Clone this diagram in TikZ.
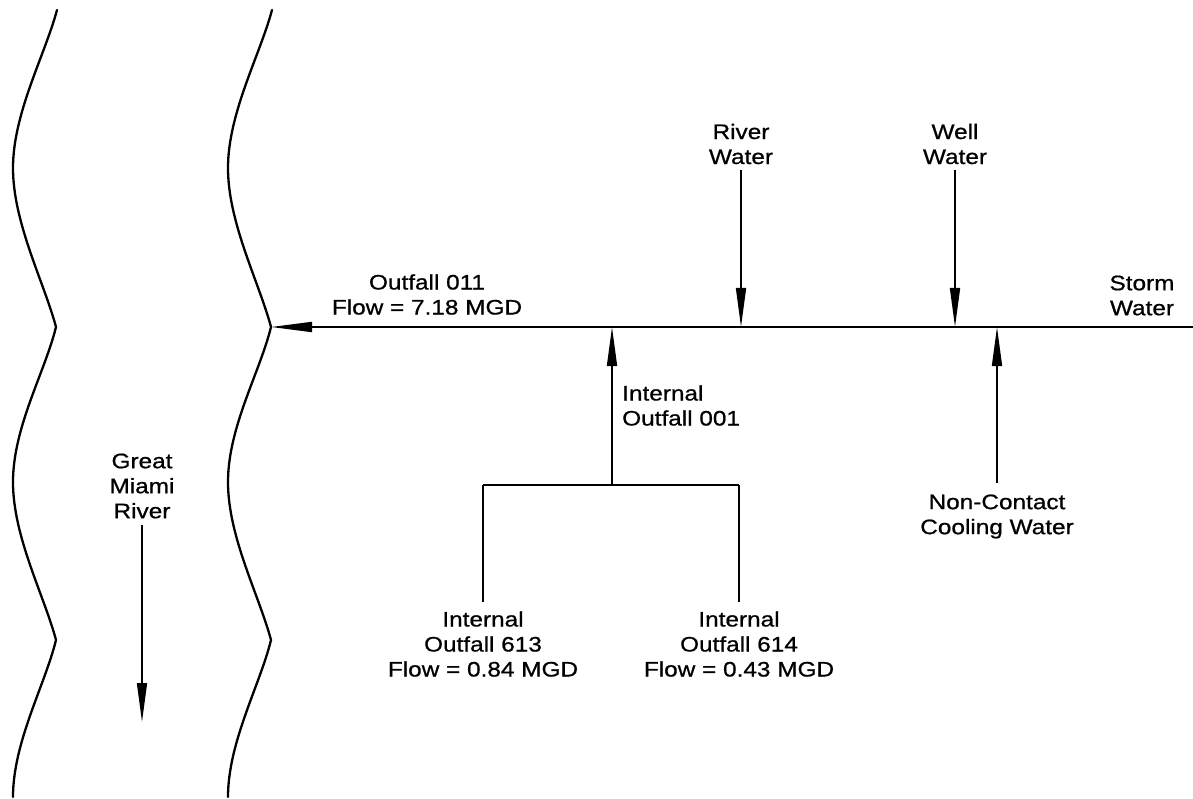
\documentclass[tikz,border=0pt]{standalone}
\usepackage{fontspec}
\setmainfont{Liberation Sans}[FakeStretch=1.16,FakeBold=0.8]
\usetikzlibrary{arrows.meta}
\begin{document}
\begin{tikzpicture}[x=1pt,y=-1pt,
  lbl/.style={align=center, inner sep=0pt, font=\fontsize{21}{25}\selectfont},
  pipe/.style={line width=1.8pt},
  flow/.style={line width=1.6pt, -{Triangle[length=39pt,width=10pt]}},
  bank/.style={line width=2.3pt, line join=round, line cap=round}]
\useasboundingbox (0,0) rectangle (1193,799);
% river banks
\foreach \dx in {0,215}{
  \draw[bank, shift={(\dx,0)}] (57,10) .. controls (45,55) and (13,113) .. (13,168)
    .. controls (13,223) and (44,282) .. (56,327)
    .. controls (45,372) and (13,427) .. (13,482)
    .. controls (13,537) and (44,595) .. (56,640)
    .. controls (45,685) and (13,742) .. (13,797);
}
% labels
\node[lbl] (out011) at (427,294.5) {Outfall 011\\Flow = 7.18 MGD};
\node[lbl] (riverw) at (741,144) {River\\Water};
\node[lbl] (wellw) at (955,144) {Well\\Water};
\node[lbl] (storm) at (1142,295.5) {Storm\\Water};
\node[lbl, align=left, anchor=west] (int001) at (622,405.5) {Internal\\Outfall 001};
\node[lbl] (o613) at (483,644) {Internal\\Outfall 613\\Flow = 0.84 MGD};
\node[lbl] (o614) at (739,644) {Internal\\Outfall 614\\Flow = 0.43 MGD};
\node[lbl] (nccw) at (997,516.5) {Non-Contact\\Cooling Water};
\node[lbl] (gmr) at (142,486) {Great\\Miami\\River};
% coordinates
\coordinate (J) at (271,327);
\coordinate (E) at (1193,327);
\coordinate (rw) at (741,327);
\coordinate (ww) at (955,327);
\coordinate (i1) at (612,327);
\coordinate (nc) at (997,327);
\coordinate (bus) at (612,485);
\coordinate (b613) at (483,485);
\coordinate (b614) at (739,485);
\coordinate (gmrend) at (142,722);
% connectors
\draw[pipe, -{Triangle[length=41pt,width=10pt]}] (E) -- (J);
\draw[flow, shorten <=6pt] (riverw) -- (rw);
\draw[flow, shorten <=6pt] (wellw) -- (ww);
\draw[flow] (bus) -- (i1);
\draw[pipe] (b613) -- (b614);
\draw[pipe, shorten >=9pt] (b613) -- (o613);
\draw[pipe, shorten >=9pt] (b614) -- (o614);
\draw[flow, shorten <=11pt] (nccw) -- (nc);
\draw[flow, shorten <=6pt] (gmr) -- (gmrend);
\end{tikzpicture}
\end{document}
